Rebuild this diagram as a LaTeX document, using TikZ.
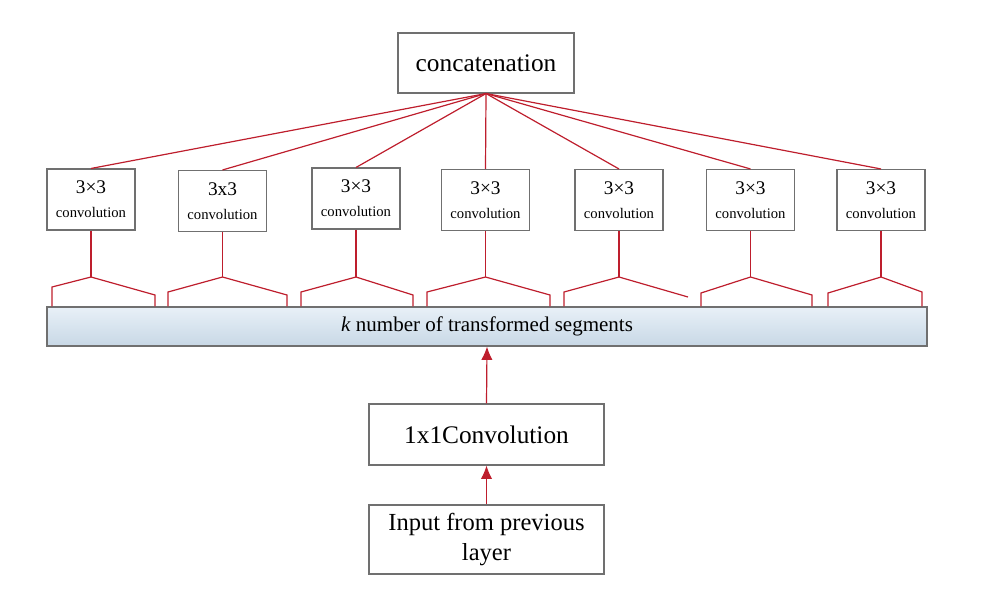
\documentclass[tikz,border=0pt]{standalone}
\usepackage{fontspec}
\setmainfont{Liberation Serif}
\usetikzlibrary{arrows.meta}
\definecolor{segred}{RGB}{190,30,45}
\definecolor{boxgray}{RGB}{112,112,112}
\definecolor{bartop}{RGB}{232,240,247}
\definecolor{barbot}{RGB}{200,216,230}
\tikzset{
  box/.style={draw=boxgray,line width=0.8pt,fill=white,inner sep=0pt,align=center},
  convbox/.style={box,minimum width=66pt,minimum height=45.75pt},
  seg/.style={draw=segred,line width=0.9pt},
  uparrow/.style={seg,-{Latex[length=10pt,width=8.5pt]}},
  convtext/.style={font=\fontsize{14.5}{17}\selectfont}
}
\newcommand{\convlabel}[1]{#1\\[1pt]{\fontsize{11}{13}\selectfont convolution}}

\begin{document}
\begin{tikzpicture}[x=0.75pt,y=0.75pt,yscale=-1,xscale=1]
\useasboundingbox (0,0) rectangle (987,603);

%Shape: Rectangle [id:concat]
\node[box,minimum width=132pt,minimum height=45pt,font=\fontsize{19}{22}\selectfont] (concat) at (486,63) {concatenation};

%Shape: Rectangles [id:conv]
\node[convbox,convtext] (c1) at (91,199.5) {\convlabel{3×3}};
\node[convbox,convtext] (c2) at (222.5,201) {\convlabel{3x3}};
\node[convbox,convtext] (c3) at (356,198.5) {\convlabel{3×3}};
\node[convbox,convtext] (c4) at (485.5,200) {\convlabel{3×3}};
\node[convbox,convtext] (c5) at (619,200) {\convlabel{3×3}};
\node[convbox,convtext] (c6) at (750.5,200) {\convlabel{3×3}};
\node[convbox,convtext] (c7) at (881,200) {\convlabel{3×3}};

%Shape: Rectangle [id:bar]
\node[box,top color=bartop,bottom color=barbot,minimum width=660pt,minimum height=29.25pt,font=\fontsize{15.75}{18}\selectfont] (bar) at (487,326.5) {\textit{k} number of transformed segments};

%Shape: Rectangle [id:onebyone]
\node[box,minimum width=176.25pt,minimum height=45.75pt,font=\fontsize{19}{22}\selectfont] (onebyone) at (486.5,434.5) {1x1Convolution};
%Shape: Rectangle [id:input]
\node[box,minimum width=176.25pt,minimum height=51.75pt,font=\fontsize{18.4}{22.5}\selectfont] (input) at (486.5,539.5) {Input from previous\\layer};

%Straight Lines [id:fan]
\draw[seg] (concat.south) -- (c1.north);
\draw[seg] (concat.south) -- (c2.north);
\draw[seg] (concat.south) -- (c3.north);
\draw[seg] (concat.south) -- (c4.north);
\draw[seg] (concat.south) -- (c5.north);
\draw[seg] (concat.south) -- (c6.north);
\draw[seg] (concat.south) -- (c7.north);

%Bracket points
\coordinate (t1) at (91,277);  \coordinate (l1) at (52,287);  \coordinate (r1) at (155,295);
\coordinate (t2) at (222.5,277); \coordinate (l2) at (168,292); \coordinate (r2) at (287,295);
\coordinate (t3) at (356,277); \coordinate (l3) at (301,292); \coordinate (r3) at (413,295);
\coordinate (t4) at (485.5,277); \coordinate (l4) at (427,292); \coordinate (r4) at (550,295);
\coordinate (t5) at (619,277); \coordinate (l5) at (564,292); \coordinate (r5) at (688,297);
\coordinate (t6) at (750.5,277); \coordinate (l6) at (701,293); \coordinate (r6) at (812,295);
\coordinate (t7) at (881,277); \coordinate (l7) at (828,293); \coordinate (r7) at (922,292);

%Straight Lines [id:brackets]
\draw[seg] (c1.south) -- (t1);
\draw[seg] (l1 |- bar.north) -- (l1) -- (t1) -- (r1) -- (r1 |- bar.north);
\draw[seg] (c2.south) -- (t2);
\draw[seg] (l2 |- bar.north) -- (l2) -- (t2) -- (r2) -- (r2 |- bar.north);
\draw[seg] (c3.south) -- (t3);
\draw[seg] (l3 |- bar.north) -- (l3) -- (t3) -- (r3) -- (r3 |- bar.north);
\draw[seg] (c4.south) -- (t4);
\draw[seg] (l4 |- bar.north) -- (l4) -- (t4) -- (r4) -- (r4 |- bar.north);
\draw[seg] (c5.south) -- (t5);
\draw[seg] (l5 |- bar.north) -- (l5) -- (t5) -- (r5);
\draw[seg] (c6.south) -- (t6);
\draw[seg] (l6 |- bar.north) -- (l6) -- (t6) -- (r6) -- (r6 |- bar.north);
\draw[seg] (c7.south) -- (t7);
\draw[seg] (l7 |- bar.north) -- (l7) -- (t7) -- (r7) -- (r7 |- bar.north);

%Arrows
\draw[uparrow] (onebyone.north) -- (bar.south);
\draw[uparrow] (input.north) -- (onebyone.south);

\end{tikzpicture}
\end{document}
